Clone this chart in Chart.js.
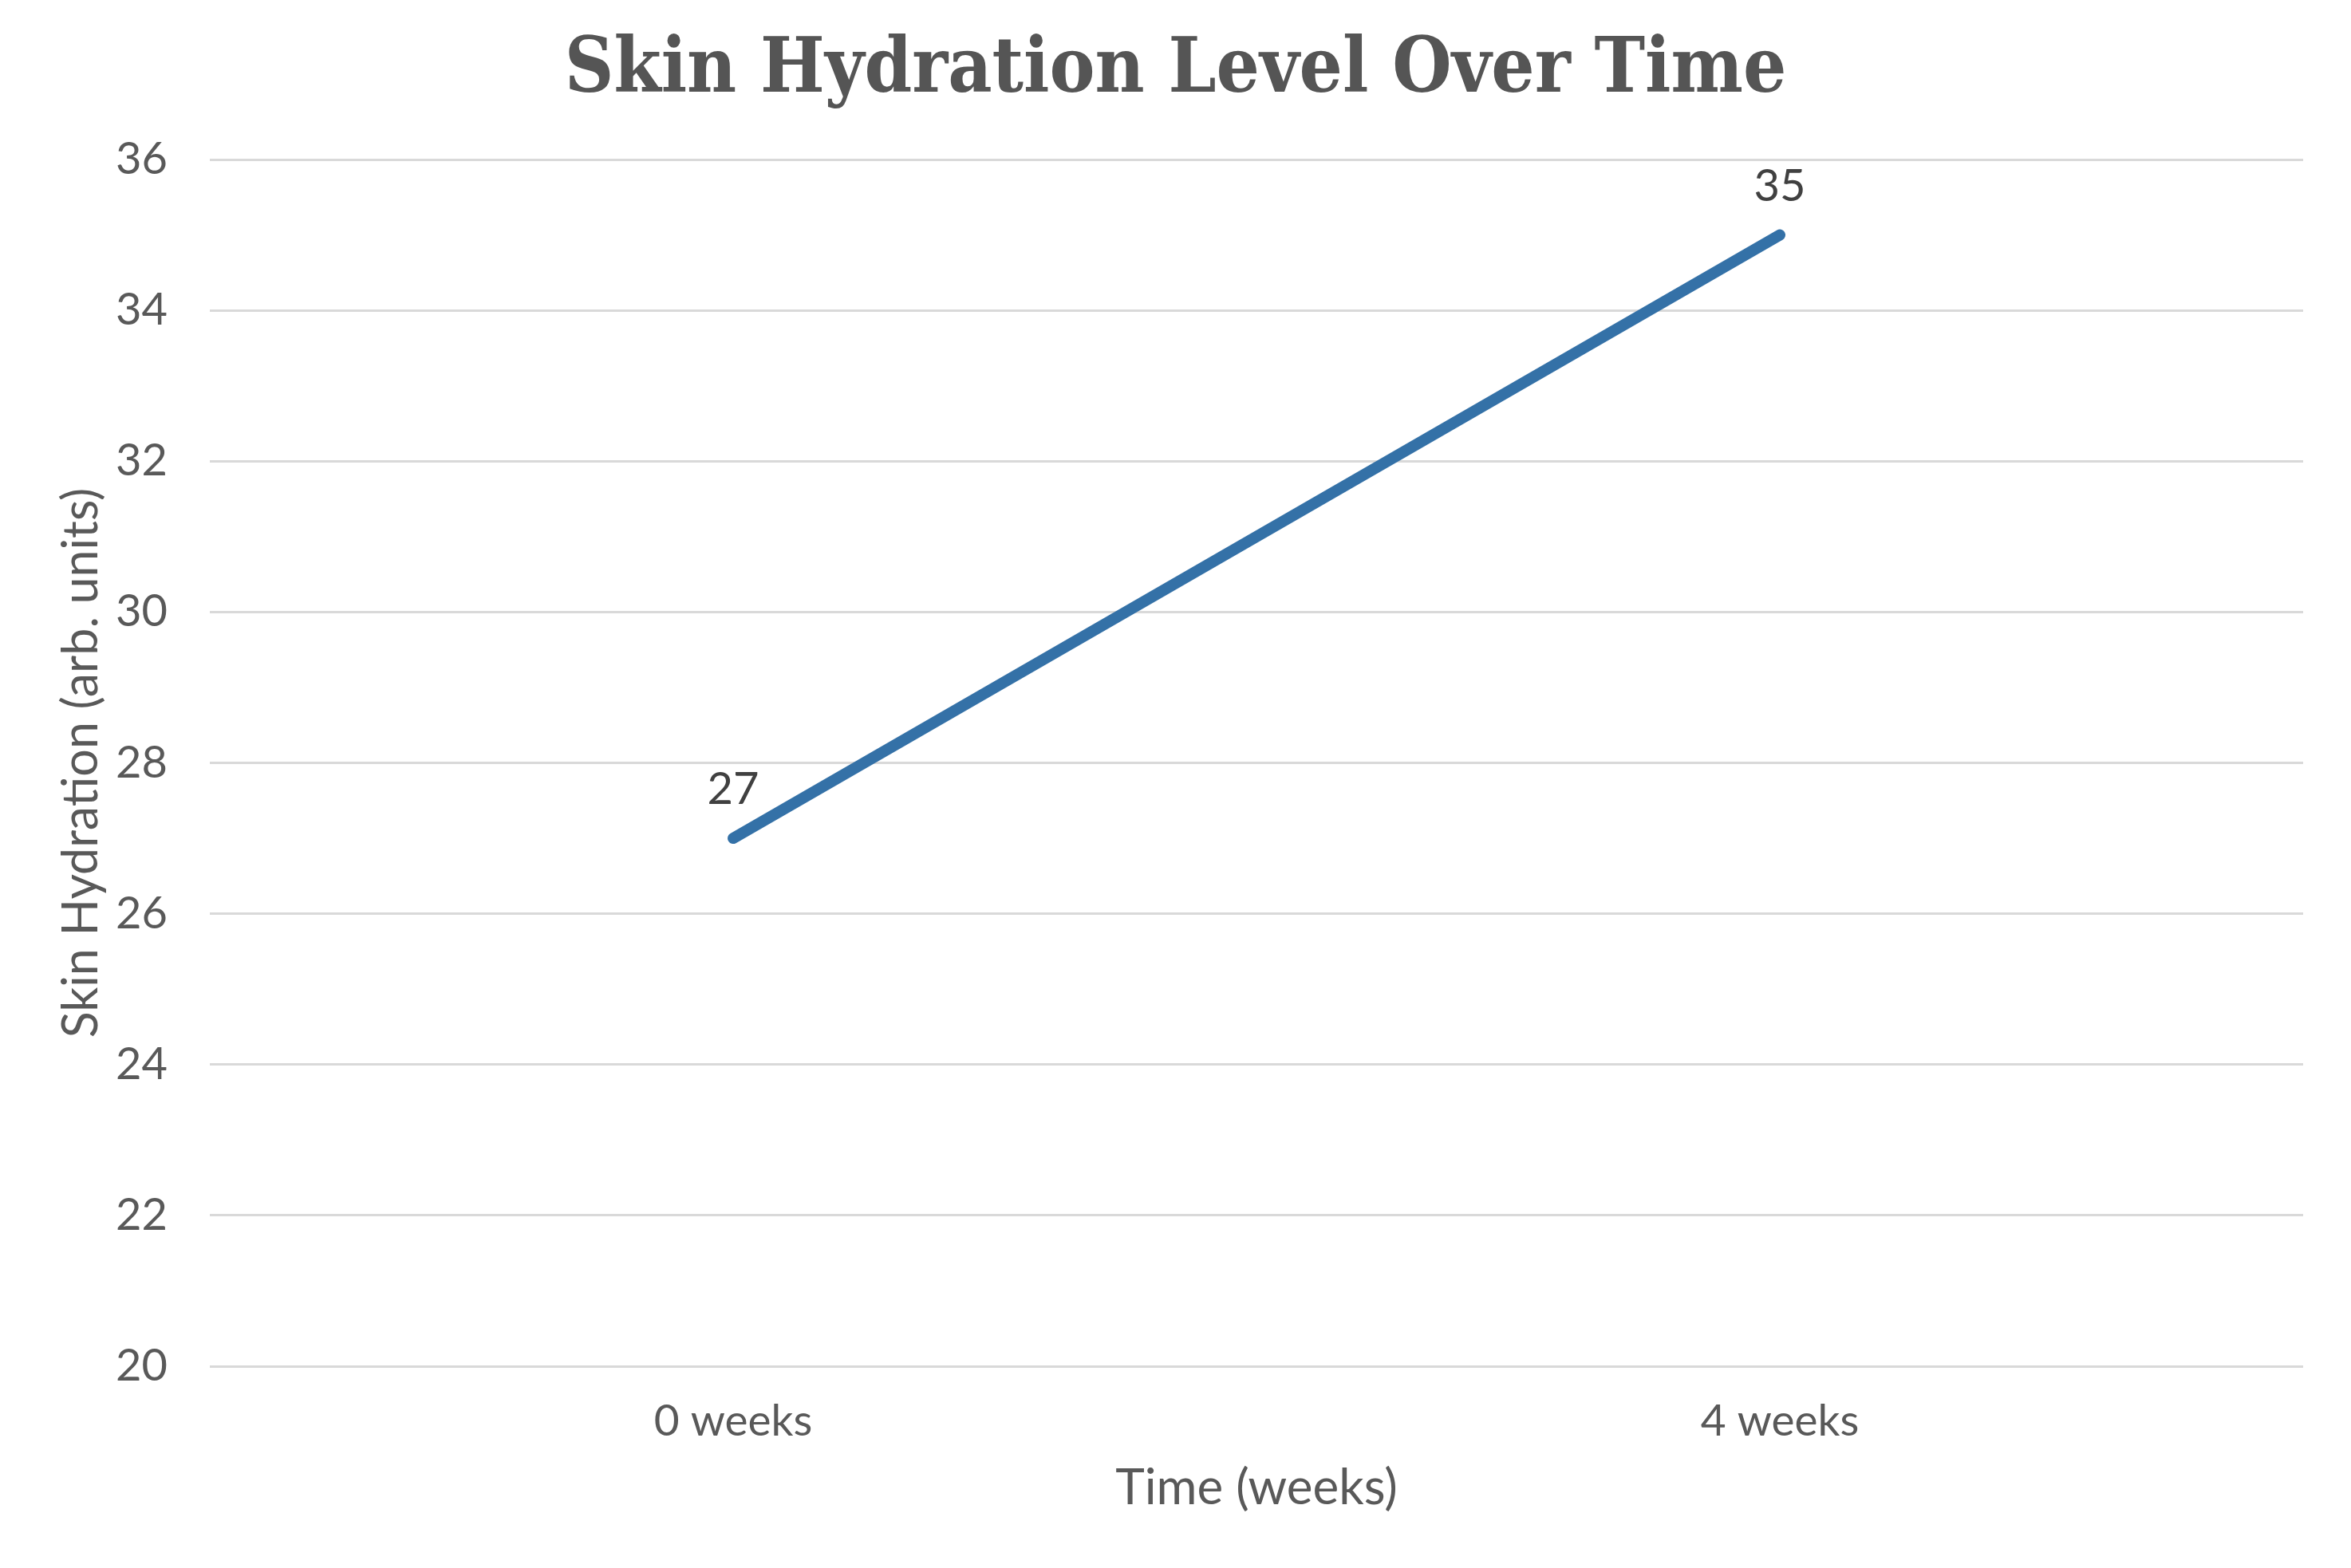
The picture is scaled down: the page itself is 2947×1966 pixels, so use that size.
<!DOCTYPE html>
<html>
<head>
<meta charset="utf-8">
<title>Skin Hydration Level Over Time</title>
<script src="https://cdn.jsdelivr.net/npm/chart.js@4.4.1/dist/chart.umd.min.js"></script>
<style>
  body { margin: 0; background: #ffffff; }
  #wrap { width: 2947px; height: 1966px; }
</style>
</head>
<body>
<div id="wrap"><canvas id="myChart"></canvas></div>
<script>
// data
let categories = ['0 weeks', '4 weeks'];
let hydrationValues = [27, 35];
let yTicks = [20, 22, 24, 26, 28, 30, 32, 34, 36];

let textGrey = '#595959';
let lineBlue = '#3471a7';

// small plugin that writes the value above each point (no datalabels plugin offline)
let pointLabels = {
    id: 'pointLabels',
    afterDatasetsDraw: function(chart) {
        let ctx = chart.ctx;
        let meta = chart.getDatasetMeta(0);
        ctx.save();
        ctx.font = '56px Lato';
        ctx.fillStyle = '#404040';
        ctx.textAlign = 'center';
        ctx.textBaseline = 'middle';
        meta.data.forEach(function(pt, i) {
            ctx.fillText(String(chart.data.datasets[0].data[i]), pt.x, pt.y - 61);
        });
        ctx.restore();
    }
};

let ctx = document.getElementById('myChart').getContext('2d');
let chart = new Chart(ctx, {
    type: 'line',
    data: {
        labels: categories,
        datasets: [{
            label: 'Skin Hydration',
            data: hydrationValues,
            borderColor: lineBlue,
            backgroundColor: lineBlue,
            borderWidth: 14,
            borderCapStyle: 'round',
            pointRadius: 0,
            pointHoverRadius: 0,
            tension: 0
        }]
    },
    options: {
        responsive: true,
        maintainAspectRatio: false,
        animation: false,
        devicePixelRatio: 1,
        layout: { padding: 0 },
        plugins: {
            legend: { display: false },
            tooltip: { enabled: false },
            title: {
                display: true,
                text: 'Skin Hydration Level Over Time',
                color: '#555555',
                font: { family: "'DejaVu Serif Condensed', 'DejaVu Serif'", size: 95, weight: 'bold', lineHeight: 1.2 },
                padding: { top: 33, bottom: 53 }
            }
        },
        scales: {
            x: {
                offset: true,
                border: { display: false },
                grid: { display: false, drawTicks: false },
                ticks: {
                    color: textGrey,
                    font: { family: 'Lato', size: 55 },
                    padding: 36
                },
                title: {
                    display: true,
                    text: 'Time (weeks)',
                    color: textGrey,
                    font: { family: 'Lato', size: 62, lineHeight: 1.2 },
                    padding: { top: 0, bottom: 63 }
                },
                afterFit: function(scale) { scale.height = 253; }
            },
            y: {
                min: yTicks[0],
                max: yTicks[yTicks.length - 1],
                border: { display: false },
                grid: { color: '#d9d9d9', lineWidth: 3, drawTicks: false },
                afterBuildTicks: function(scale) {
                    scale.ticks = yTicks.map(function(v) { return { value: v }; });
                },
                ticks: {
                    color: textGrey,
                    font: { family: 'Lato', size: 56 },
                    padding: 53
                },
                title: {
                    display: true,
                    text: 'Skin Hydration (arb. units)',
                    color: textGrey,
                    font: { family: 'Lato', size: 61, lineHeight: 1.2 },
                    padding: { top: 66, bottom: 0 }
                },
                afterFit: function(scale) { scale.width = 263; }
            },
            // empty right axis, only keeps a margin on the right so the title stays centred on the page
            yRight: {
                type: 'linear',
                position: 'right',
                min: yTicks[0],
                max: yTicks[yTicks.length - 1],
                border: { display: false },
                grid: { display: false, drawTicks: false },
                ticks: { display: false },
                afterFit: function(scale) { scale.width = 60; }
            }
        }
    },
    plugins: [pointLabels]
});
</script>
</body>
</html>
